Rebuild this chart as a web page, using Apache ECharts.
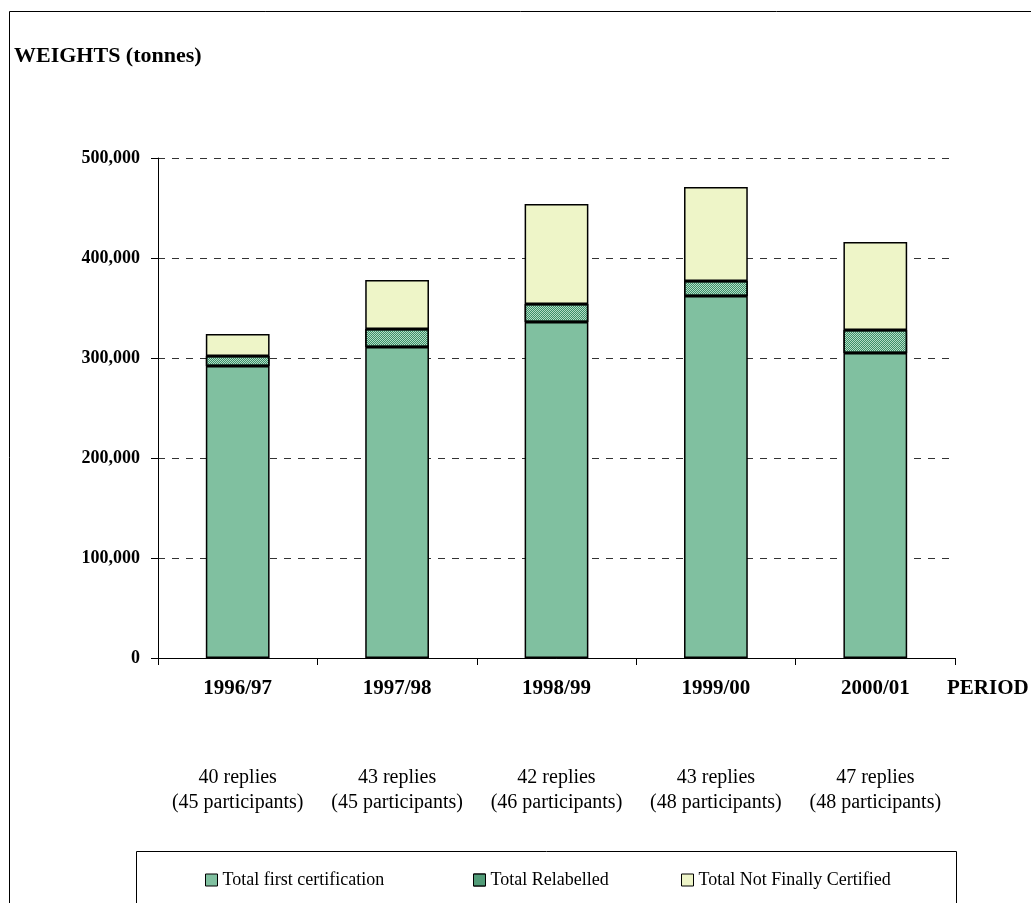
<!DOCTYPE html>
<html><head><meta charset="utf-8">
<script src="https://cdn.jsdelivr.net/npm/echarts@6/dist/echarts.min.js"></script>
<style>html,body{margin:0;padding:0;background:#fff}#c{width:1031px;height:903px}</style>
</head><body><div id="c"></div>
<script>
const periods = ['1996/97','1997/98','1998/99','1999/00','2000/01'];
const replies = ['40 replies\n(45 participants)','43 replies\n(45 participants)','42 replies\n(46 participants)','43 replies\n(48 participants)','47 replies\n(48 participants)'];
const firstCert = [292000, 311000, 336000, 362000, 305000];
const relabelled = [10000, 18000, 18000, 15000, 23000];
const notCertified = [22000, 49000, 100000, 94000, 88000];
const yTicks = [0, 100000, 200000, 300000, 400000, 500000];

const F = 'Liberation Serif, Times New Roman, serif';
const chart = echarts.init(document.getElementById('c'));
const barBorder = {borderColor:'#000', borderWidth:1.5};
chart.setOption({
  animation:false,
  title:{text:'WEIGHTS (tonnes)', left:9, top:40, textStyle:{fontFamily:F, fontWeight:'bold', fontSize:22, color:'#000'}},
  graphic:[
    {type:'rect', left:7, top:9, shape:{width:1100, height:1000}, style:{fill:'none', stroke:'#000', lineWidth:1}, silent:true, z:-1},
    {type:'rect', left:134, top:849, shape:{width:820, height:100}, style:{fill:'none', stroke:'#000', lineWidth:1}, silent:true},
    {type:'text', left:947, top:678, style:{text:'PERIOD', fontFamily:F, fontWeight:'bold', fontSize:21, fill:'#000'}}
  ],
  grid:{left:158, right:76, top:158, bottom:245},
  xAxis:[{
    type:'category', data:periods, boundaryGap:true,
    axisLine:{lineStyle:{color:'#000', width:1}},
    axisTick:{show:true, alignWithLabel:false, length:7, lineStyle:{color:'#000'}},
    axisLabel:{fontFamily:F, fontWeight:'bold', fontSize:21, color:'#000', margin:20, interval:0}
  },{
    type:'category', data:replies, position:'bottom', offset:107,
    axisLine:{show:false}, axisTick:{show:false}, splitLine:{show:false},
    axisLabel:{fontFamily:F, fontSize:20, color:'#000', lineHeight:25, margin:0, interval:0, hideOverlap:false}
  }],
  yAxis:{
    type:'value', min:0, max:500000, interval:100000,
    axisLine:{show:true, lineStyle:{color:'#000'}},
    axisTick:{show:true, length:7, lineStyle:{color:'#000'}},
    axisLabel:{fontFamily:F, fontWeight:'bold', fontSize:18, color:'#000', margin:18,
      formatter:v=>yTicks.includes(v)?v.toLocaleString('en-US'):''},
    splitLine:{show:true, lineStyle:{color:'#333', type:[7,7], width:1}}
  },
  legend:[
    {data:['Total first certification'], left:200, top:866},
    {data:[{name:'Total Relabelled', itemStyle:{color:'#6aa888'}}], left:468, top:866},
    {data:['Total Not Finally Certified'], left:676, top:866}
  ].map(l=>Object.assign(l,{itemWidth:12, itemHeight:12, itemGap:5, icon:'rect',
      textStyle:{fontFamily:F, fontSize:18, color:'#000'}, itemStyle:{borderColor:'#000', borderWidth:1}})),
  series:[
    {name:'Total first certification', type:'bar', stack:'t', data:firstCert, barWidth:'40%',
      itemStyle:Object.assign({color:'#80C0A0'}, barBorder)},
    {name:'Total Relabelled', type:'bar', stack:'t', data:relabelled, barWidth:'40%',
      itemStyle:Object.assign({color:'#b4dcc6', decal:{symbol:'rect', symbolSize:1, dashArrayX:[[1,1],[0,1,1,0]], dashArrayY:[1,0], rotation:0, color:'#3a9068'}}, barBorder)},
    {name:'Total Not Finally Certified', type:'bar', stack:'t', data:notCertified, barWidth:'40%',
      itemStyle:Object.assign({color:'#EEF5C8'}, barBorder)}
  ]
});
</script></body></html>
